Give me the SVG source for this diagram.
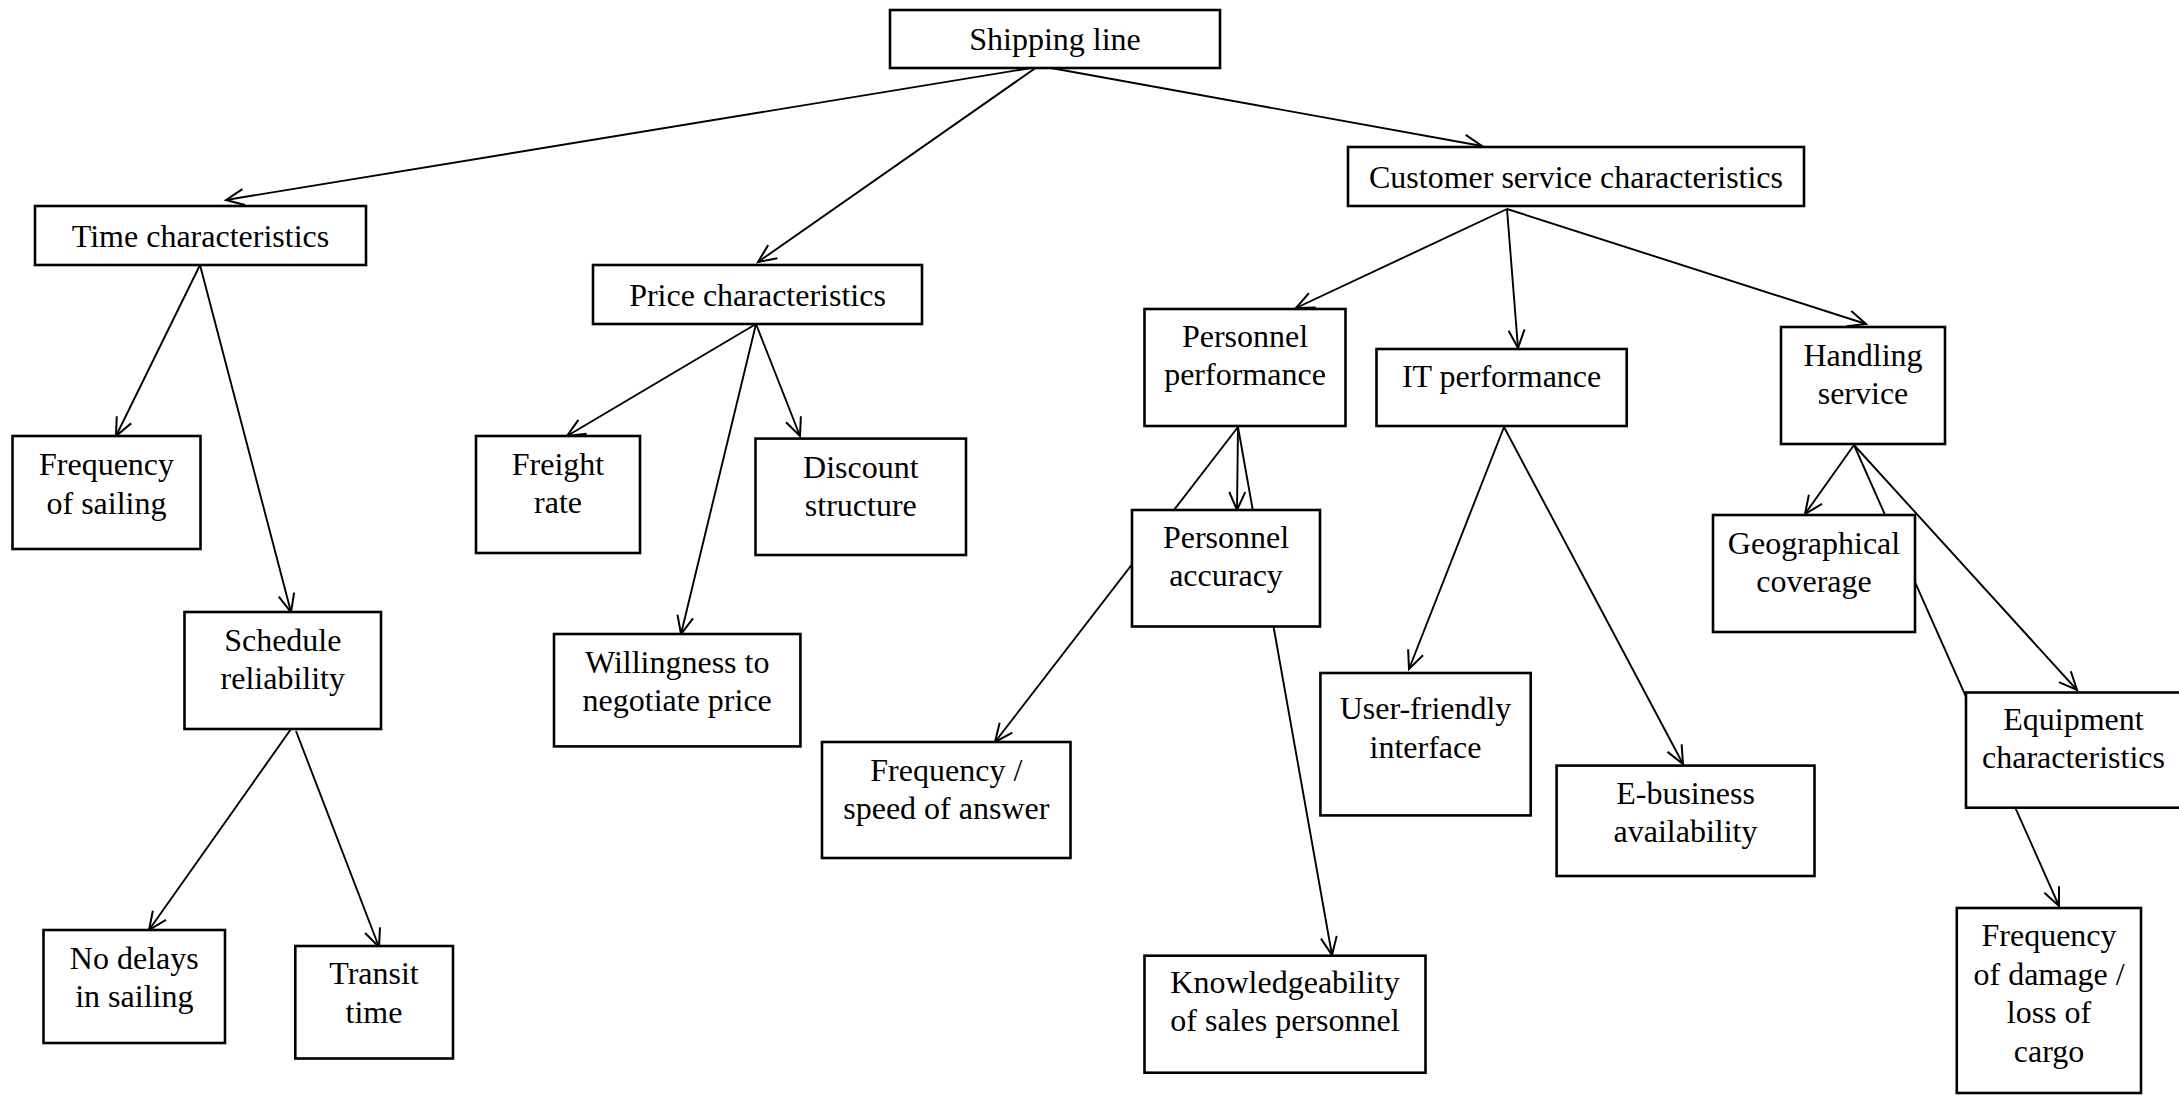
<svg xmlns="http://www.w3.org/2000/svg" width="2179" height="1098" viewBox="0 0 2179 1098">
  <style>
    .box { fill: #ffffff; stroke: #000000; stroke-width: 2.6; }
    .lbl { font-family: 'Liberation Serif', 'Times New Roman', Times, 'DejaVu Serif', serif; font-size: 32px; fill: #000000; text-anchor: middle; }
    .link { fill: none; stroke: #000000; stroke-width: 1.9; }
    .arrow { marker-end: url(#open); }
  </style>
  <defs>
    <marker id="open" markerUnits="userSpaceOnUse" viewBox="-20 -10 22 20" refX="0" refY="0" markerWidth="22" markerHeight="20" orient="auto" overflow="visible">
      <path d="M-18,-8 L0,0 L-18,8" fill="none" stroke="#000000" stroke-width="2"/>
    </marker>
  </defs>
  <rect x="0" y="0" width="2179" height="1098" fill="#ffffff"/>

  <!-- connectors (drawn first so boxes mask the lines that pass behind them) -->
  <g id="connectors">
    <line class="link arrow" x1="1037" y1="67" x2="226" y2="200"/>
    <line class="link arrow" x1="1037" y1="67" x2="758" y2="262"/>
    <line class="link arrow" x1="1040" y1="66" x2="1482" y2="146"/>
    <line class="link arrow" x1="1507" y1="209" x2="1296" y2="308"/>
    <line class="link arrow" x1="1507" y1="209" x2="1518" y2="348"/>
    <line class="link arrow" x1="1507" y1="209" x2="1866" y2="324"/>
    <line class="link arrow" x1="200" y1="265" x2="116" y2="436"/>
    <line class="link arrow" x1="200" y1="265" x2="291" y2="612"/>
    <line class="link arrow" x1="756" y1="324" x2="567" y2="436"/>
    <line class="link arrow" x1="756" y1="324" x2="800" y2="436"/>
    <line class="link arrow" x1="756" y1="324" x2="681" y2="634"/>
    <line class="link arrow" x1="291" y1="729" x2="149" y2="930"/>
    <line class="link arrow" x1="296" y1="731" x2="379" y2="947"/>
    <line class="link arrow" x1="1238" y1="427" x2="995" y2="742"/>
    <line class="link arrow" x1="1238" y1="427" x2="1237" y2="510"/>
    <line class="link arrow" x1="1238" y1="427" x2="1332" y2="955"/>
    <line class="link arrow" x1="1504" y1="427" x2="1409" y2="669"/>
    <line class="link arrow" x1="1504" y1="427" x2="1683" y2="764"/>
    <line class="link arrow" x1="1854" y1="445" x2="1805" y2="514"/>
    <line class="link arrow" x1="1854" y1="445" x2="2059" y2="906"/>
    <line class="link arrow" x1="1854" y1="445" x2="2077" y2="690"/>
  </g>

  <g font-family="Liberation Serif, serif">
  <g id="shipping-line">
    <rect class="box" x="890" y="10" width="330" height="58"/>
    <text class="lbl" x="1055" y="50">Shipping line</text>
  </g>
  <g id="time-characteristics">
    <rect class="box" x="35" y="206" width="331" height="59"/>
    <text class="lbl" x="200.5" y="246.5">Time characteristics</text>
  </g>
  <g id="price-characteristics">
    <rect class="box" x="593" y="265" width="329" height="59"/>
    <text class="lbl" x="757.5" y="305.5">Price characteristics</text>
  </g>
  <g id="customer-service-characteristics">
    <rect class="box" x="1348" y="147" width="456" height="59"/>
    <text class="lbl" x="1576" y="187.5">Customer service characteristics</text>
  </g>
  <g id="frequency-of-sailing">
    <rect class="box" x="12.5" y="436" width="188" height="113"/>
    <text class="lbl" x="106.5" y="475">Frequency</text>
    <text class="lbl" x="106.5" y="513.5">of sailing</text>
  </g>
  <g id="schedule-reliability">
    <rect class="box" x="184.5" y="612" width="196.5" height="117"/>
    <text class="lbl" x="282.8" y="650.5">Schedule</text>
    <text class="lbl" x="282.8" y="689">reliability</text>
  </g>
  <g id="no-delays-in-sailing">
    <rect class="box" x="43.5" y="930" width="181.5" height="113"/>
    <text class="lbl" x="134.3" y="969">No delays</text>
    <text class="lbl" x="134.3" y="1007">in sailing</text>
  </g>
  <g id="transit-time">
    <rect class="box" x="295.3" y="946" width="157.7" height="112.5"/>
    <text class="lbl" x="374" y="984">Transit</text>
    <text class="lbl" x="374" y="1022.5">time</text>
  </g>
  <g id="freight-rate">
    <rect class="box" x="476" y="436" width="164" height="117"/>
    <text class="lbl" x="558" y="475">Freight</text>
    <text class="lbl" x="558" y="513">rate</text>
  </g>
  <g id="discount-structure">
    <rect class="box" x="755.5" y="438.6" width="210.5" height="116.4"/>
    <text class="lbl" x="860.8" y="478">Discount</text>
    <text class="lbl" x="860.8" y="516">structure</text>
  </g>
  <g id="willingness-to-negotiate-price">
    <rect class="box" x="554" y="634" width="246.4" height="112.4"/>
    <text class="lbl" x="677.2" y="672.5">Willingness to</text>
    <text class="lbl" x="677.2" y="711">negotiate price</text>
  </g>
  <g id="personnel-performance">
    <rect class="box" x="1144.5" y="309" width="201" height="117"/>
    <text class="lbl" x="1245" y="346.5">Personnel</text>
    <text class="lbl" x="1245" y="385">performance</text>
  </g>
  <g id="it-performance">
    <rect class="box" x="1376.5" y="349" width="250.2" height="77"/>
    <text class="lbl" x="1501.6" y="387">IT performance</text>
  </g>
  <g id="handling-service">
    <rect class="box" x="1781" y="327" width="164" height="117"/>
    <text class="lbl" x="1863" y="366">Handling</text>
    <text class="lbl" x="1863" y="404">service</text>
  </g>
  <g id="personnel-accuracy">
    <rect class="box" x="1132" y="510" width="188" height="116.5"/>
    <text class="lbl" x="1226" y="547.5">Personnel</text>
    <text class="lbl" x="1226" y="586">accuracy</text>
  </g>
  <g id="frequency-speed-of-answer">
    <rect class="box" x="822" y="742" width="248.5" height="116"/>
    <text class="lbl" x="946.3" y="780.5">Frequency /</text>
    <text class="lbl" x="946.3" y="819">speed of answer</text>
  </g>
  <g id="knowledgeability-of-sales-personnel">
    <rect class="box" x="1144.5" y="955.7" width="281" height="117"/>
    <text class="lbl" x="1285" y="992.5">Knowledgeability</text>
    <text class="lbl" x="1285" y="1031">of sales personnel</text>
  </g>
  <g id="user-friendly-interface">
    <rect class="box" x="1320.4" y="673" width="210.3" height="142.4"/>
    <text class="lbl" x="1425.5" y="719">User-friendly</text>
    <text class="lbl" x="1425.5" y="757.5">interface</text>
  </g>
  <g id="e-business-availability">
    <rect class="box" x="1556.6" y="765.6" width="257.9" height="110.4"/>
    <text class="lbl" x="1685.5" y="803.5">E-business</text>
    <text class="lbl" x="1685.5" y="842">availability</text>
  </g>
  <g id="geographical-coverage">
    <rect class="box" x="1713" y="515" width="202" height="117"/>
    <text class="lbl" x="1814" y="553.5">Geographical</text>
    <text class="lbl" x="1814" y="592">coverage</text>
  </g>
  <g id="equipment-characteristics">
    <rect class="box" x="1966" y="692.5" width="215" height="115.2"/>
    <text class="lbl" x="2073.5" y="729.5">Equipment</text>
    <text class="lbl" x="2073.5" y="768">characteristics</text>
  </g>
  <g id="frequency-of-damage-loss-of-cargo">
    <rect class="box" x="1956.8" y="908" width="184.2" height="185"/>
    <text class="lbl" x="2049" y="946">Frequency</text>
    <text class="lbl" x="2049" y="984.5">of damage /</text>
    <text class="lbl" x="2049" y="1023">loss of</text>
    <text class="lbl" x="2049" y="1061.5">cargo</text>
  </g>
  </g>
</svg>
